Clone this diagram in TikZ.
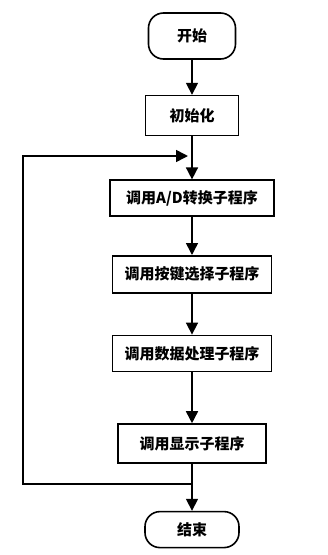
\documentclass[tikz,border=0pt]{standalone}
\usepackage{fontspec}
\newfontfamily\cjk{Noto Sans CJK SC}
\usetikzlibrary{arrows.meta,positioning,calc}

\begin{document}
\begin{tikzpicture}[x=1pt,y=1pt,>={Triangle[length=12pt,width=12pt]},font=\cjk\bfseries\fontsize{15}{17}\selectfont]
\tikzset{
  termbox/.style={draw,line width=1.6pt,rounded corners=15pt,minimum height=36pt,align=center},
  procbox/.style={draw,line width=1.6pt,minimum height=36pt,align=center},
  flow/.style={->,line width=1.6pt}
}
\useasboundingbox (0,0) rectangle (328,-555);
\node[termbox,minimum width=87pt,minimum height=46pt] (start) at (192,-36) {开始};
\node[procbox,minimum width=93pt,minimum height=40pt,below=35pt of start] (init) {初始化};
\node[procbox,minimum width=164pt,below=43pt of init] (adc) {调用A/D转换子程序};
\node[procbox,minimum width=159pt,minimum height=37pt,below=38pt of adc] (keysel) {调用按键选择子程序};
\node[procbox,minimum width=159pt,below=41pt of keysel] (datproc) {调用数据处理子程序};
\node[procbox,minimum width=148pt,minimum height=39pt,below=51pt of datproc] (disp) {调用显示子程序};
\node[termbox,minimum width=94pt,below=47pt of disp] (stop) {结束};
\coordinate (loopout) at (disp.south |- 0,-484);
\coordinate (loopin) at ([xshift=-4pt]init.south |- 0,-156);
\draw[flow] (start)--(init);
\draw[flow] (init)--(adc);
\draw[flow] (adc)--(keysel);
\draw[flow] (keysel)--(datproc);
\draw[flow] (datproc)--(disp);
\draw[flow] (disp)--(stop);
\draw[flow] (loopout) -- (23,-484) |- (loopin);
\end{tikzpicture}
\end{document}
